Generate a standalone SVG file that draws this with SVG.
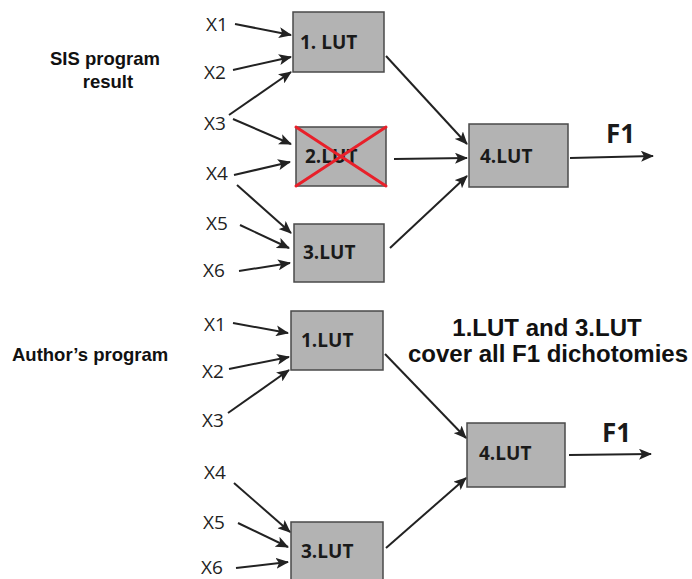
<svg xmlns="http://www.w3.org/2000/svg" width="692" height="579" viewBox="0 0 692 579">
<style>
.box{fill:#b3b3b3;stroke:#4a4a4a;stroke-width:1.5}
.lut{font-family:"Open Sans","DejaVu Sans",sans-serif;font-weight:700;font-size:19px;fill:#1a1a1a}
.x{font-family:"Open Sans","DejaVu Sans",sans-serif;font-size:19px;fill:#222}
.f{font-family:"Open Sans","DejaVu Sans",sans-serif;font-weight:700;font-size:26px;fill:#1a1a1a}
.lbl{font-family:"Liberation Sans",Arial,sans-serif;font-weight:700;fill:#111}
.c line{stroke:#222;stroke-width:2;marker-end:url(#ah)}
.cross{stroke:#e8202a;stroke-width:3;stroke-linecap:round}
</style>
<defs>
<marker id="ah" markerUnits="userSpaceOnUse" markerWidth="13" markerHeight="11" refX="12" refY="5.5" orient="auto">
<path d="M0,0 L13,5.5 L0,11 L3,5.5 Z" fill="#222"/>
</marker>
</defs>
<rect width="692" height="579" fill="#fff"/>

<text class="lbl" x="105" y="65" font-size="18.5" text-anchor="middle">SIS program</text>
<text class="lbl" x="108" y="88" font-size="18.5" text-anchor="middle">result</text>
<text class="lbl" x="12" y="361" font-size="18.5">Author’s program</text>
<text class="lbl" x="547" y="336" font-size="24" text-anchor="middle">1.LUT and 3.LUT</text>
<text class="lbl" x="548" y="362" font-size="24" text-anchor="middle">cover all F1 dichotomies</text>

<g id="inputs-top">
<text class="x" x="206" y="31">X1</text>
<text class="x" x="204" y="79">X2</text>
<text class="x" x="204" y="130">X3</text>
<text class="x" x="206" y="180">X4</text>
<text class="x" x="206" y="230">X5</text>
<text class="x" x="203" y="277">X6</text>
</g>
<g id="inputs-bottom">
<text class="x" x="204" y="331">X1</text>
<text class="x" x="202" y="378">X2</text>
<text class="x" x="202" y="427">X3</text>
<text class="x" x="204" y="479">X4</text>
<text class="x" x="203" y="529">X5</text>
<text class="x" x="201" y="574">X6</text>
</g>

<g id="top-lut1"><rect class="box" x="293" y="12" width="91" height="60"/><text class="lut" x="300" y="49">1. LUT</text></g>
<g id="top-lut2"><rect class="box" x="296" y="127" width="90" height="59"/><text class="lut" x="305" y="163">2.LUT</text>
<line class="cross" x1="296" y1="127" x2="386" y2="186"/><line class="cross" x1="386" y1="127" x2="296" y2="186"/></g>
<g id="top-lut3"><rect class="box" x="294" y="224" width="90" height="58"/><text class="lut" x="303" y="259">3.LUT</text></g>
<g id="top-lut4"><rect class="box" x="469" y="124" width="99" height="63"/><text class="lut" x="480" y="163">4.LUT</text></g>
<text class="f" x="606" y="143">F1</text>

<g id="bot-lut1"><rect class="box" x="291" y="311" width="92" height="59"/><text class="lut" x="301" y="347">1.LUT</text></g>
<g id="bot-lut3"><rect class="box" x="291" y="522" width="92" height="60"/><text class="lut" x="301" y="558">3.LUT</text></g>
<g id="bot-lut4"><rect class="box" x="467" y="423" width="98" height="64"/><text class="lut" x="479" y="460">4.LUT</text></g>
<text class="f" x="602" y="442">F1</text>

<g id="connectors" class="c">
<line x1="235" y1="24" x2="291" y2="35"/>
<line x1="233" y1="70" x2="291" y2="57"/>
<line x1="229" y1="115" x2="291" y2="72"/>
<line x1="233" y1="119" x2="291" y2="144"/>
<line x1="234" y1="175" x2="290" y2="162"/>
<line x1="237" y1="185" x2="291" y2="233"/>
<line x1="240" y1="225" x2="289" y2="248"/>
<line x1="239" y1="271" x2="290" y2="263"/>
<line x1="386" y1="56" x2="467" y2="144"/>
<line x1="394" y1="159" x2="467" y2="158"/>
<line x1="390" y1="248" x2="467" y2="176"/>
<line x1="570" y1="158" x2="653" y2="156"/>

<line x1="233" y1="323" x2="288" y2="333"/>
<line x1="229" y1="369" x2="289" y2="357"/>
<line x1="228" y1="413" x2="289" y2="370"/>
<line x1="385" y1="354" x2="466" y2="438"/>
<line x1="234" y1="483" x2="290" y2="532"/>
<line x1="238" y1="523" x2="288" y2="547"/>
<line x1="236" y1="568" x2="288" y2="562"/>
<line x1="386" y1="548" x2="466" y2="478"/>
<line x1="569" y1="455" x2="651" y2="454"/>
</g>
</svg>
